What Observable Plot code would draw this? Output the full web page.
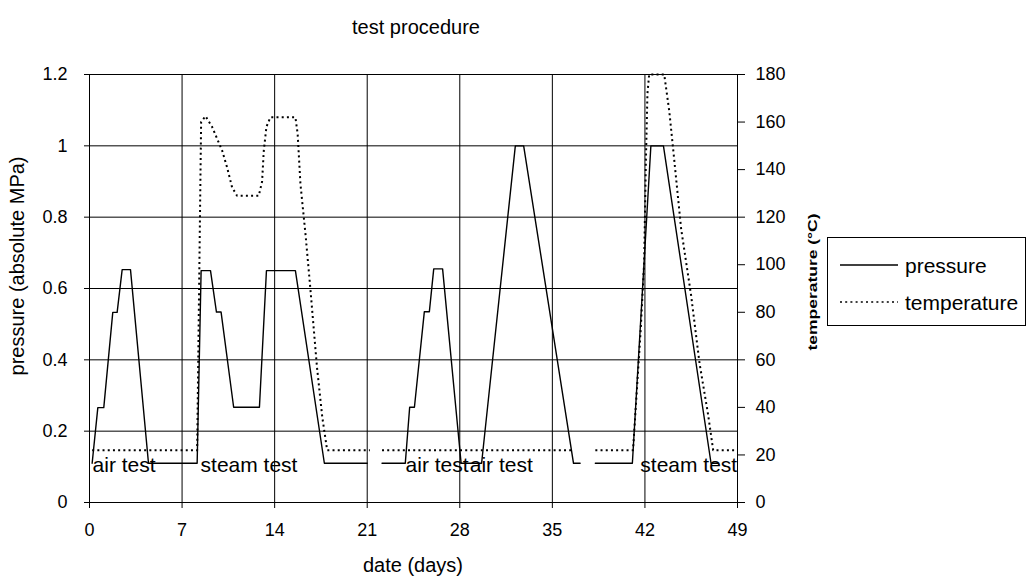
<!DOCTYPE html>
<html>
<head>
<meta charset="utf-8">
<script src="https://cdn.jsdelivr.net/npm/d3@7"></script>
<script src="https://cdn.jsdelivr.net/npm/@observablehq/plot@0.6"></script>
<style>
  body { margin: 0; background: #fff; }
  #wrap { position: relative; width: 1035px; height: 581px; overflow: hidden; background: #fff; }
  #wrap > svg { position: absolute; left: 0; top: 0; }
  #overlay { position: absolute; left: 0; top: 0; pointer-events: none; }
</style>
</head>
<body>
<div id="wrap"></div>
<script>
// ---- data ----
const dayTicks = [0, 7, 14, 21, 28, 35, 42, 49];
const pressureTicks = [0, 0.2, 0.4, 0.6, 0.8, 1, 1.2];
const tempTicks = [0, 20, 40, 60, 80, 100, 120, 140, 160, 180];

// pressure (absolute MPa), three separate runs
const pressureSeg = [1,1,1,1,1,1,1,1,1,1,1,1,1,1,1,1,1,1,1,
                     2,2,2,2,2,2,2,2,2,2,2,2,2,2,
                     3,3,3,3,3,3];
const pressureDay = [0.2, 0.63, 1.08, 1.76, 2.09, 2.47, 3.1, 4.46, 8.14, 8.44, 9.15, 9.6, 9.95, 10.9, 12.85, 13.38, 15.57, 17.76, 21.0,
                     22.12, 23.88, 24.21, 24.57, 25.32, 25.7, 26.03, 26.7, 28.1, 29.65, 32.2, 32.83, 36.6, 37.1,
                     38.25, 41.05, 42.45, 43.4, 47.0, 47.5];
const pressureMPa = [0.11, 0.266, 0.266, 0.533, 0.533, 0.653, 0.653, 0.11, 0.11, 0.65, 0.65, 0.534, 0.534, 0.267, 0.267, 0.65, 0.65, 0.11, 0.11,
                     0.11, 0.11, 0.267, 0.267, 0.535, 0.535, 0.655, 0.655, 0.11, 0.11, 1.0, 1.0, 0.11, 0.11,
                     0.11, 0.11, 1.0, 1.0, 0.11, 0.11];

// temperature (°C), three separate runs
const tempSeg = [1,1,1,1,1,1,1,1,1,1,1,1,1,1,1,1,1,1,1,1,1,1,1,1,
                 2,2,
                 3,3,3,3,3,3,3,3,3,3,3,3,3,3,3,3];
const tempDay = [0.2, 8.14, 8.44, 8.77, 9.27, 9.65, 10.03, 10.4, 10.78, 11.16, 12.8, 13.05, 13.18, 13.38, 13.68, 15.57, 15.74, 15.95, 16.33, 16.7, 17.2, 17.6, 17.97, 21.2,
                 22.12, 36.5,
                 38.25, 41.1, 41.68, 41.94, 42.07, 42.19, 42.32, 43.46, 43.84, 44.23, 44.74, 45.5, 46.13, 46.77, 47.16, 48.8];
const tempC = [22, 22, 160, 162.5, 158, 153, 148, 141, 132.6, 129, 129, 135, 148, 158, 162, 162, 155, 134, 113, 90, 57, 36, 22, 22,
               22, 22,
               22, 22, 72.7, 101, 143, 172, 180, 180, 164.6, 143.4, 115, 86.8, 58.5, 37.2, 22, 22];

// phase labels
const labelText = ["air test", "steam test", "air test", "air test", "steam test"];
const labelDay = [0.23, 8.4, 23.9, 28.75, 41.65];
const labelMPa = [0.11, 0.11, 0.11, 0.11, 0.11];

const tempPerMPa = 150; // 1.2 MPa <-> 180 °C

// ---- tables ----
const pressure = pressureDay.map((d, i) => ({day: d, p: pressureMPa[i], seg: pressureSeg[i]}));
const temperature = tempDay.map((d, i) => ({day: d, t: tempC[i], seg: tempSeg[i]}));
const labels = labelText.map((s, i) => ({text: s, day: labelDay[i], p: labelMPa[i]}));

const FONT = "'Liberation Sans', Arial, Helvetica, sans-serif";

const chart = Plot.plot({
  width: 1035,
  height: 581,
  marginLeft: 89,
  marginRight: 298,
  marginTop: 74,
  marginBottom: 79,
  style: {fontFamily: FONT, fontSize: "18px", color: "#000", background: "#fff", overflow: "visible"},
  x: {domain: [0, 49]},
  y: {domain: [0, 1.2]},
  marks: [
    Plot.gridY(pressureTicks.filter(v => v > 0 && v < 1.2), {stroke: "#000", strokeOpacity: 1, strokeWidth: 1}),
    Plot.gridX(dayTicks.filter(v => v > 0 && v < 49), {stroke: "#000", strokeOpacity: 1, strokeWidth: 1}),
    Plot.frame({stroke: "#000", strokeWidth: 1}),
    Plot.axisX({ticks: dayTicks, tickSize: 6, tickPadding: 15, fontSize: 18, label: null, tickFormat: d => String(d)}),
    Plot.axisY({anchor: "left", ticks: pressureTicks, tickSize: 5, tickPadding: 17, fontSize: 18, label: null,
                tickFormat: d => String(+d.toFixed(1))}),
    Plot.axisY({anchor: "right", ticks: tempTicks.map(t => t / tempPerMPa), tickSize: 7, tickPadding: 11, fontSize: 18, label: null,
                tickFormat: d => String(Math.round(d * tempPerMPa))}),
    Plot.line(temperature, {x: "day", y: d => d.t / tempPerMPa, z: "seg", stroke: "#000", strokeWidth: 2,
                            strokeDasharray: "2 3.2", strokeLinecap: "butt"}),
    Plot.line(pressure, {x: "day", y: "p", z: "seg", stroke: "#000", strokeWidth: 1.4}),
    Plot.text(labels, {x: "day", y: "p", text: "text", textAnchor: "start", lineAnchor: "middle", dy: 2,
                       fontSize: 21, fill: "#000"})
  ]
});

const wrap = document.getElementById("wrap");
wrap.appendChild(chart);

// ---- titles and legend (text overlay) ----
const NS = "http://www.w3.org/2000/svg";
const ov = document.createElementNS(NS, "svg");
ov.setAttribute("id", "overlay");
ov.setAttribute("width", 1035);
ov.setAttribute("height", 581);
ov.style.fontFamily = FONT;
wrap.appendChild(ov);

function txt(str, attrs) {
  const t = document.createElementNS(NS, "text");
  for (const k in attrs) t.setAttribute(k, attrs[k]);
  t.textContent = str;
  ov.appendChild(t);
  return t;
}
txt("test procedure", {x: 416, y: 27, "text-anchor": "middle", "dominant-baseline": "central", "font-size": 20, fill: "#000"});
txt("date (days)", {x: 413, y: 565, "text-anchor": "middle", "dominant-baseline": "central", "font-size": 20, fill: "#000"});
txt("pressure (absolute MPa)", {x: 0, y: 0, transform: "translate(17,266) rotate(-90)", "text-anchor": "middle",
     "dominant-baseline": "central", "font-size": 20, fill: "#000"});
txt("temperature (°C)", {x: 0, y: 0, transform: "translate(812,282) rotate(-90)", "text-anchor": "middle",
     "dominant-baseline": "central", "font-size": 13, "font-weight": "bold", fill: "#000",
     textLength: 137, lengthAdjust: "spacingAndGlyphs"});

// legend
const lg = {x: 827, y: 237, w: 198, h: 88};
const rect = document.createElementNS(NS, "rect");
rect.setAttribute("x", lg.x + 0.5); rect.setAttribute("y", lg.y + 0.5);
rect.setAttribute("width", lg.w); rect.setAttribute("height", lg.h);
rect.setAttribute("fill", "#fff"); rect.setAttribute("stroke", "#000"); rect.setAttribute("stroke-width", 1);
ov.appendChild(rect);
function lline(y, dash, w) {
  const l = document.createElementNS(NS, "line");
  l.setAttribute("x1", lg.x + 13); l.setAttribute("x2", lg.x + 71);
  l.setAttribute("y1", y); l.setAttribute("y2", y);
  l.setAttribute("stroke", "#000"); l.setAttribute("stroke-width", w);
  if (dash) l.setAttribute("stroke-dasharray", dash);
  ov.appendChild(l);
}
lline(265, null, 1.4);
lline(302, "2 3.2", 1.6);
txt("pressure", {x: lg.x + 78, y: 265, "dominant-baseline": "central", "font-size": 21, fill: "#000"});
txt("temperature", {x: lg.x + 78, y: 302, "dominant-baseline": "central", "font-size": 21, fill: "#000"});
</script>
</body>
</html>
